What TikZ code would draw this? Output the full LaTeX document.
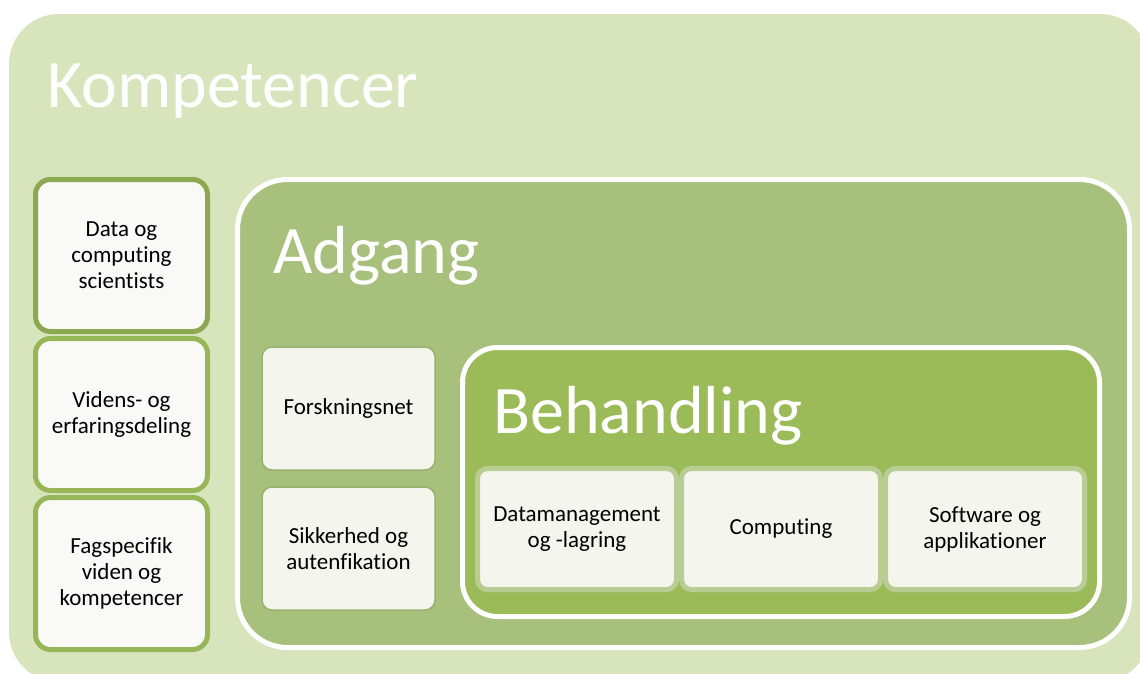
\documentclass[tikz,border=0pt]{standalone}
\usepackage{fontspec}
\setmainfont{Carlito}[Ligatures=NoCommon]
\usepackage{tikz}
\usetikzlibrary{positioning}

\definecolor{kompgreen}{HTML}{D8E4BC}
\definecolor{adggreen}{HTML}{A7C07C}
\definecolor{behgreen}{HTML}{9BBB59}
\definecolor{leftline}{HTML}{97B657}
\definecolor{cardline}{HTML}{B8CD93}
\definecolor{cardfill}{HTML}{F4F6EE}
\definecolor{leftfill}{HTML}{F9FAF5}

\tikzset{
  areabox/.style={rounded corners=#1, inner sep=0pt},
  title/.style={anchor=base west, inner sep=0pt, text=white,
    font=\fontsize{68}{80}\selectfont},
  leftbox/.style={draw=leftline, line width=5pt, fill=leftfill, rounded corners=15pt,
    minimum width=172pt, minimum height=152pt, align=center,
    font=\fontsize{23}{26}\selectfont},
  netbox/.style={draw=adggreen!92!black, line width=1.5pt, fill=cardfill, rounded corners=10pt,
    minimum width=173pt, minimum height=123pt, align=center,
    font=\fontsize{23}{26}\selectfont},
  card/.style={draw=cardline, line width=5pt, fill=cardfill, rounded corners=10pt,
    minimum width=199pt, minimum height=121pt, align=center,
    font=\fontsize{23}{26}\selectfont}
}

\begin{document}
\begin{tikzpicture}[x=1pt, y=-1pt]
\useasboundingbox (0,0) rectangle (1140,673);

\node[areabox=50pt, fill=kompgreen, minimum width=1141pt, minimum height=668pt]
  (komp) at (579.5,348) {};
\node[title] (kompt) at (47,107) {Kompetencer};

\node[leftbox, draw=leftline!93!black] (data) at (121.5,255.5) {Data og\\computing\\scientists};
\node[leftbox] (viden) at (121.5,414.5) {Videns- og\\erfaringsdeling};
\node[leftbox] (fag) at (121.5,573.5) {Fagspecifik\\viden og\\kompetencer};

\node[areabox=50pt, draw=white, line width=5pt, fill=adggreen,
  minimum width=892pt, minimum height=468pt] (adgang) at (683.5,413.5) {};
\node[title] (adgangt) at (273,273) {Adgang};

\node[netbox] (net) at (348.5,408.5) {Forskningsnet};
\node[netbox] (sikker) at (348.5,548.5) {Sikkerhed og\\autenfikation};

\node[areabox=35pt, draw=white, line width=5pt, fill=behgreen,
  minimum width=637pt, minimum height=269pt] (behandling) at (781,482) {};
\node[title] (behandlingt) at (493,433) {Behandling};

\node[card] (datamgmt) at (577,529) {Datamanagement\\og -lagring};
\node[card] (computing) at (781,529) {Computing};
\node[card] (software) at (985,529) {Software og\\applikationer};
\end{tikzpicture}
\end{document}
